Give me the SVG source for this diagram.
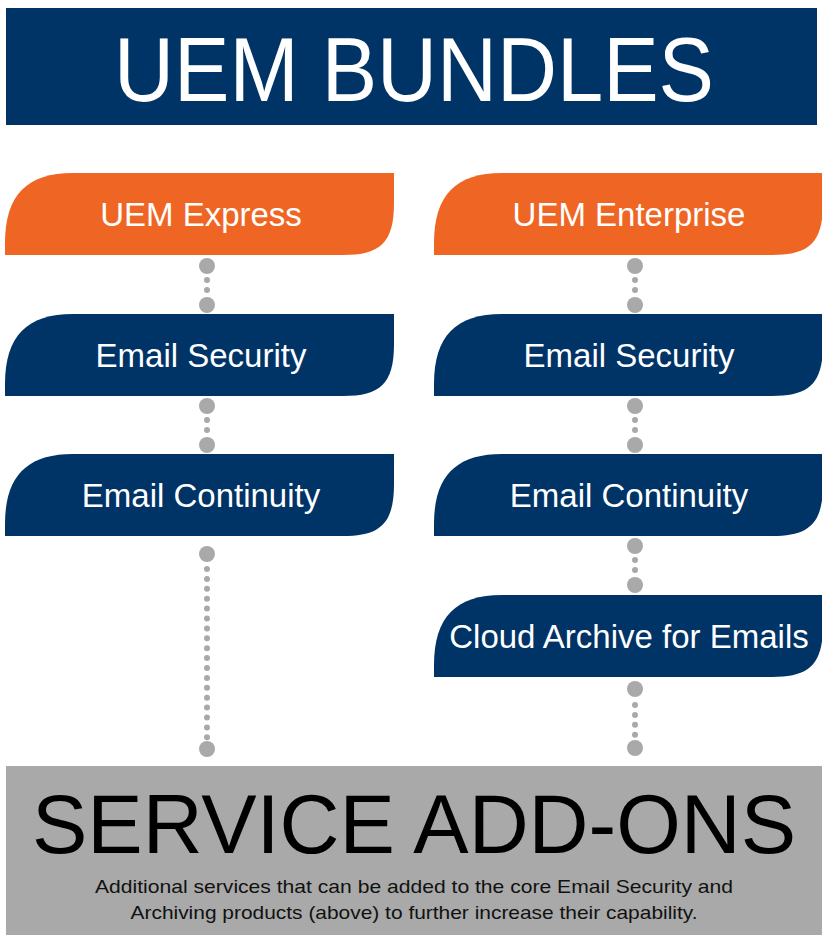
<svg xmlns="http://www.w3.org/2000/svg" width="822" height="935" viewBox="0 0 822 935">
<defs>
<style>
.navy{fill:#003366}
.orange{fill:#ef6624}
.lbl{font-family:"Liberation Sans",Arial,sans-serif;font-size:33px;fill:#ffffff;text-anchor:middle}
.big{font-family:"Liberation Sans",Arial,sans-serif;text-anchor:middle}
.dot{fill:#a9a9a9}
.dots{stroke:#a9a9a9;stroke-width:6;stroke-linecap:round;stroke-dasharray:0 9.9;fill:none}
</style>
<path id="tab" d="M0,82 L0,70 C0,22 22,0 68,0 L389,0 L389,30 C389,70 375,82 338,82 Z"/>
</defs>
<rect width="822" height="935" fill="#ffffff"/>
<g id="header">
<rect x="6" y="8" width="811" height="117" class="navy"/>
<text x="414" y="101" class="big" font-size="90" fill="#ffffff" textLength="600" lengthAdjust="spacingAndGlyphs">UEM BUNDLES</text>
</g>
<g id="connectors">
<g id="c1"><circle cx="207" cy="266" r="8" class="dot"/><line x1="207" y1="280" x2="207" y2="290.5" class="dots"/><circle cx="207" cy="305" r="8" class="dot"/></g>
<g id="c2"><circle cx="207" cy="406" r="8" class="dot"/><line x1="207" y1="420" x2="207" y2="430.5" class="dots"/><circle cx="207" cy="445" r="8" class="dot"/></g>
<g id="c3"><circle cx="207" cy="554" r="8" class="dot"/><line x1="207" y1="569" x2="207" y2="738" class="dots"/><circle cx="207" cy="749" r="8" class="dot"/></g>
<g id="c4"><circle cx="635" cy="266" r="8" class="dot"/><line x1="635" y1="280" x2="635" y2="290.5" class="dots"/><circle cx="635" cy="305" r="8" class="dot"/></g>
<g id="c5"><circle cx="635" cy="406" r="8" class="dot"/><line x1="635" y1="420" x2="635" y2="430.5" class="dots"/><circle cx="635" cy="445" r="8" class="dot"/></g>
<g id="c6"><circle cx="635" cy="546" r="8" class="dot"/><line x1="635" y1="560" x2="635" y2="570.5" class="dots"/><circle cx="635" cy="585" r="8" class="dot"/></g>
<g id="c7"><circle cx="635" cy="689" r="8" class="dot"/><line x1="635" y1="705" x2="635" y2="735" class="dots"/><circle cx="635" cy="748" r="8" class="dot"/></g>
</g>
<g id="uem-express"><use href="#tab" x="5" y="173" class="orange"/><text x="201" y="226" class="lbl">UEM Express</text></g>
<g id="email-security-1"><use href="#tab" x="5" y="314" class="navy"/><text x="201" y="367" class="lbl">Email Security</text></g>
<g id="email-continuity-1"><use href="#tab" x="5" y="454" class="navy"/><text x="201" y="507" class="lbl">Email Continuity</text></g>
<g id="uem-enterprise"><use href="#tab" x="434" y="173" class="orange"/><text x="629" y="226" class="lbl">UEM Enterprise</text></g>
<g id="email-security-2"><use href="#tab" x="434" y="314" class="navy"/><text x="629" y="367" class="lbl">Email Security</text></g>
<g id="email-continuity-2"><use href="#tab" x="434" y="454" class="navy"/><text x="629" y="507" class="lbl">Email Continuity</text></g>
<g id="cloud-archive"><use href="#tab" x="434" y="595" class="navy"/><text x="629" y="648" class="lbl">Cloud Archive for Emails</text></g>
<g id="service-addons">
<rect x="6" y="766" width="816" height="169" fill="#a8a9a8"/>
<text x="414" y="853" class="big" font-size="84" fill="#000000" textLength="764" lengthAdjust="spacingAndGlyphs">SERVICE ADD-ONS</text>
<text x="414" y="893" class="big" font-size="19" fill="#111111" textLength="638" lengthAdjust="spacingAndGlyphs">Additional services that can be added to the core Email Security and</text>
<text x="414" y="919" class="big" font-size="19" fill="#111111" textLength="567" lengthAdjust="spacingAndGlyphs">Archiving products (above) to further increase their capability.</text>
</g>
</svg>
